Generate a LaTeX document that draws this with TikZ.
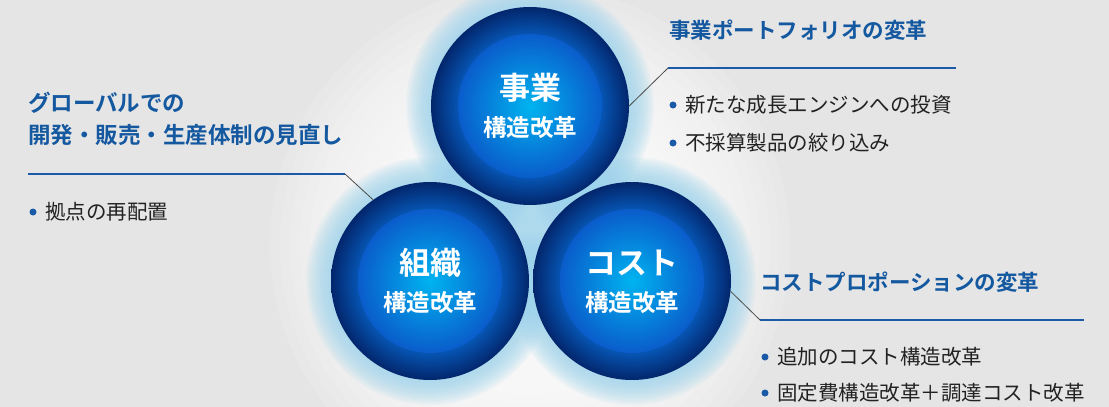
\documentclass[tikz,border=0pt]{standalone}
\usepackage{fontspec}
\newfontfamily\jp{Noto Sans CJK JP}[BoldFont={Noto Sans CJK JP Bold}]
\definecolor{bg}{HTML}{E5E5E5}
\definecolor{ttl}{HTML}{1458A0}
\definecolor{ln}{HTML}{1A5AA6}
\definecolor{txt}{HTML}{222222}
\definecolor{ringin}{HTML}{0656B4}
\definecolor{ringout}{HTML}{03266C}
\definecolor{corein}{HTML}{00B4F0}
\definecolor{coreout}{HTML}{0A5CCB}
\definecolor{glowc}{HTML}{9AD3EC}
\pgfdeclareradialshading{ringsh}{\pgfpointorigin}{color(0bp)=(ringin); color(18bp)=(ringin); color(25bp)=(ringout); color(50bp)=(ringout)}
\pgfdeclareradialshading{coresh}{\pgfpointorigin}{color(0bp)=(corein); color(25bp)=(coreout); color(50bp)=(coreout)}
\tikzset{
  ring/.style={circle, inner sep=0pt, minimum size=198pt, shade, shading=ringsh},
  core/.style={circle, inner sep=0pt, minimum size=144pt, shade, shading=coresh},
  bigtxt/.style={inner sep=0pt, text=white, font=\jp\bfseries\fontsize{31}{31}\selectfont},
  subtxt/.style={inner sep=0pt, text=white, font=\jp\bfseries\fontsize{23.5}{24}\selectfont},
  ttlnode/.style={inner sep=0pt, anchor=west, text=ttl, font=\jp\bfseries\fontsize{21.5}{22}\selectfont},
  ttlbig/.style={ttlnode, font=\jp\bfseries\fontsize{22.5}{23}\selectfont},
  item/.style={inner sep=0pt, anchor=west, text=txt, font=\jp\fontsize{20.5}{21}\selectfont},
  bul/.style={circle, inner sep=0pt, minimum size=7pt, fill=ln},
  blueline/.style={draw=ln, line width=2pt},
  leader/.style={draw=black!70, line width=0.8pt}
}
\begin{document}
\begin{tikzpicture}[x=1pt,y=-1pt]
\fill[bg] (0,0) rectangle (1109,407);
\useasboundingbox (0,0) rectangle (1109,407);
\begin{scope}
\clip (0,0) rectangle (1109,407);
\foreach \r in {120,130,...,260} \fill[white,opacity=0.12] (530,245) circle[radius=\r pt];
\foreach \cx/\cy in {530/106,430/281,632/281}
  \foreach \r in {100,102,...,124} \fill[glowc,opacity=0.1] (\cx,\cy) circle[radius=\r pt];
\end{scope}
% circles
\node[ring] (top) at (530,106) {};
\node[core] (topcore) at (top.center) {};
\node[bigtxt] (toptxt) at (530,88) {事業};
\node[subtxt] (topsub) at (530,128) {構造改革};
\node[ring] (left) at (430,281) {};
\node[core] (leftcore) at (left.center) {};
\node[bigtxt] (lefttxt) at (430,263) {組織};
\node[subtxt] (leftsub) at (430,303) {構造改革};
\node[ring] (right) at (632,281) {};
\node[core] (rightcore) at (right.center) {};
\node[bigtxt] (righttxt) at (632,263) {コスト};
\node[subtxt] (rightsub) at (632,303) {構造改革};
% left block
\node[ttlbig] (lt1) at (28,103) {グローバルでの};
\node[ttlbig] (lt2) at (28,135) {開発・販売・生産体制の見直し};
\coordinate (la) at (28,174);
\coordinate (lb) at (345,174);
\draw[blueline] (la) -- (lb);
\draw[leader] (lb) -- (left.125);
\node[bul] (lbul1) at (33,212) {};
\node[item] (li1) at (45,212) {拠点の再配置};
% top right block
\node[ttlnode] (tt) at (669,30) {事業ポートフォリオの変革};
\coordinate (ta) at (668,68);
\coordinate (tb) at (956,68);
\draw[blueline] (ta) -- (tb);
\draw[leader] (top.east) -- (ta);
\node[bul] (tbul1) at (673,105) {};
\node[item] (ti1) at (685,105) {新たな成長エンジンへの投資};
\node[bul] (tbul2) at (673,143) {};
\node[item] (ti2) at (685,143) {不採算製品の絞り込み};
% bottom right block
\node[ttlnode] (rt) at (760,282) {コストプロポーションの変革};
\coordinate (ra) at (760,320);
\coordinate (rb) at (1084,320);
\draw[blueline] (ra) -- (rb);
\draw[leader] (right.-6) -- (ra);
\node[bul] (rbul1) at (765,357) {};
\node[item] (ri1) at (777,357) {追加のコスト構造改革};
\node[bul] (rbul2) at (765,393) {};
\node[item] (ri2) at (777,393) {固定費構造改革＋調達コスト改革};
\end{tikzpicture}
\end{document}
